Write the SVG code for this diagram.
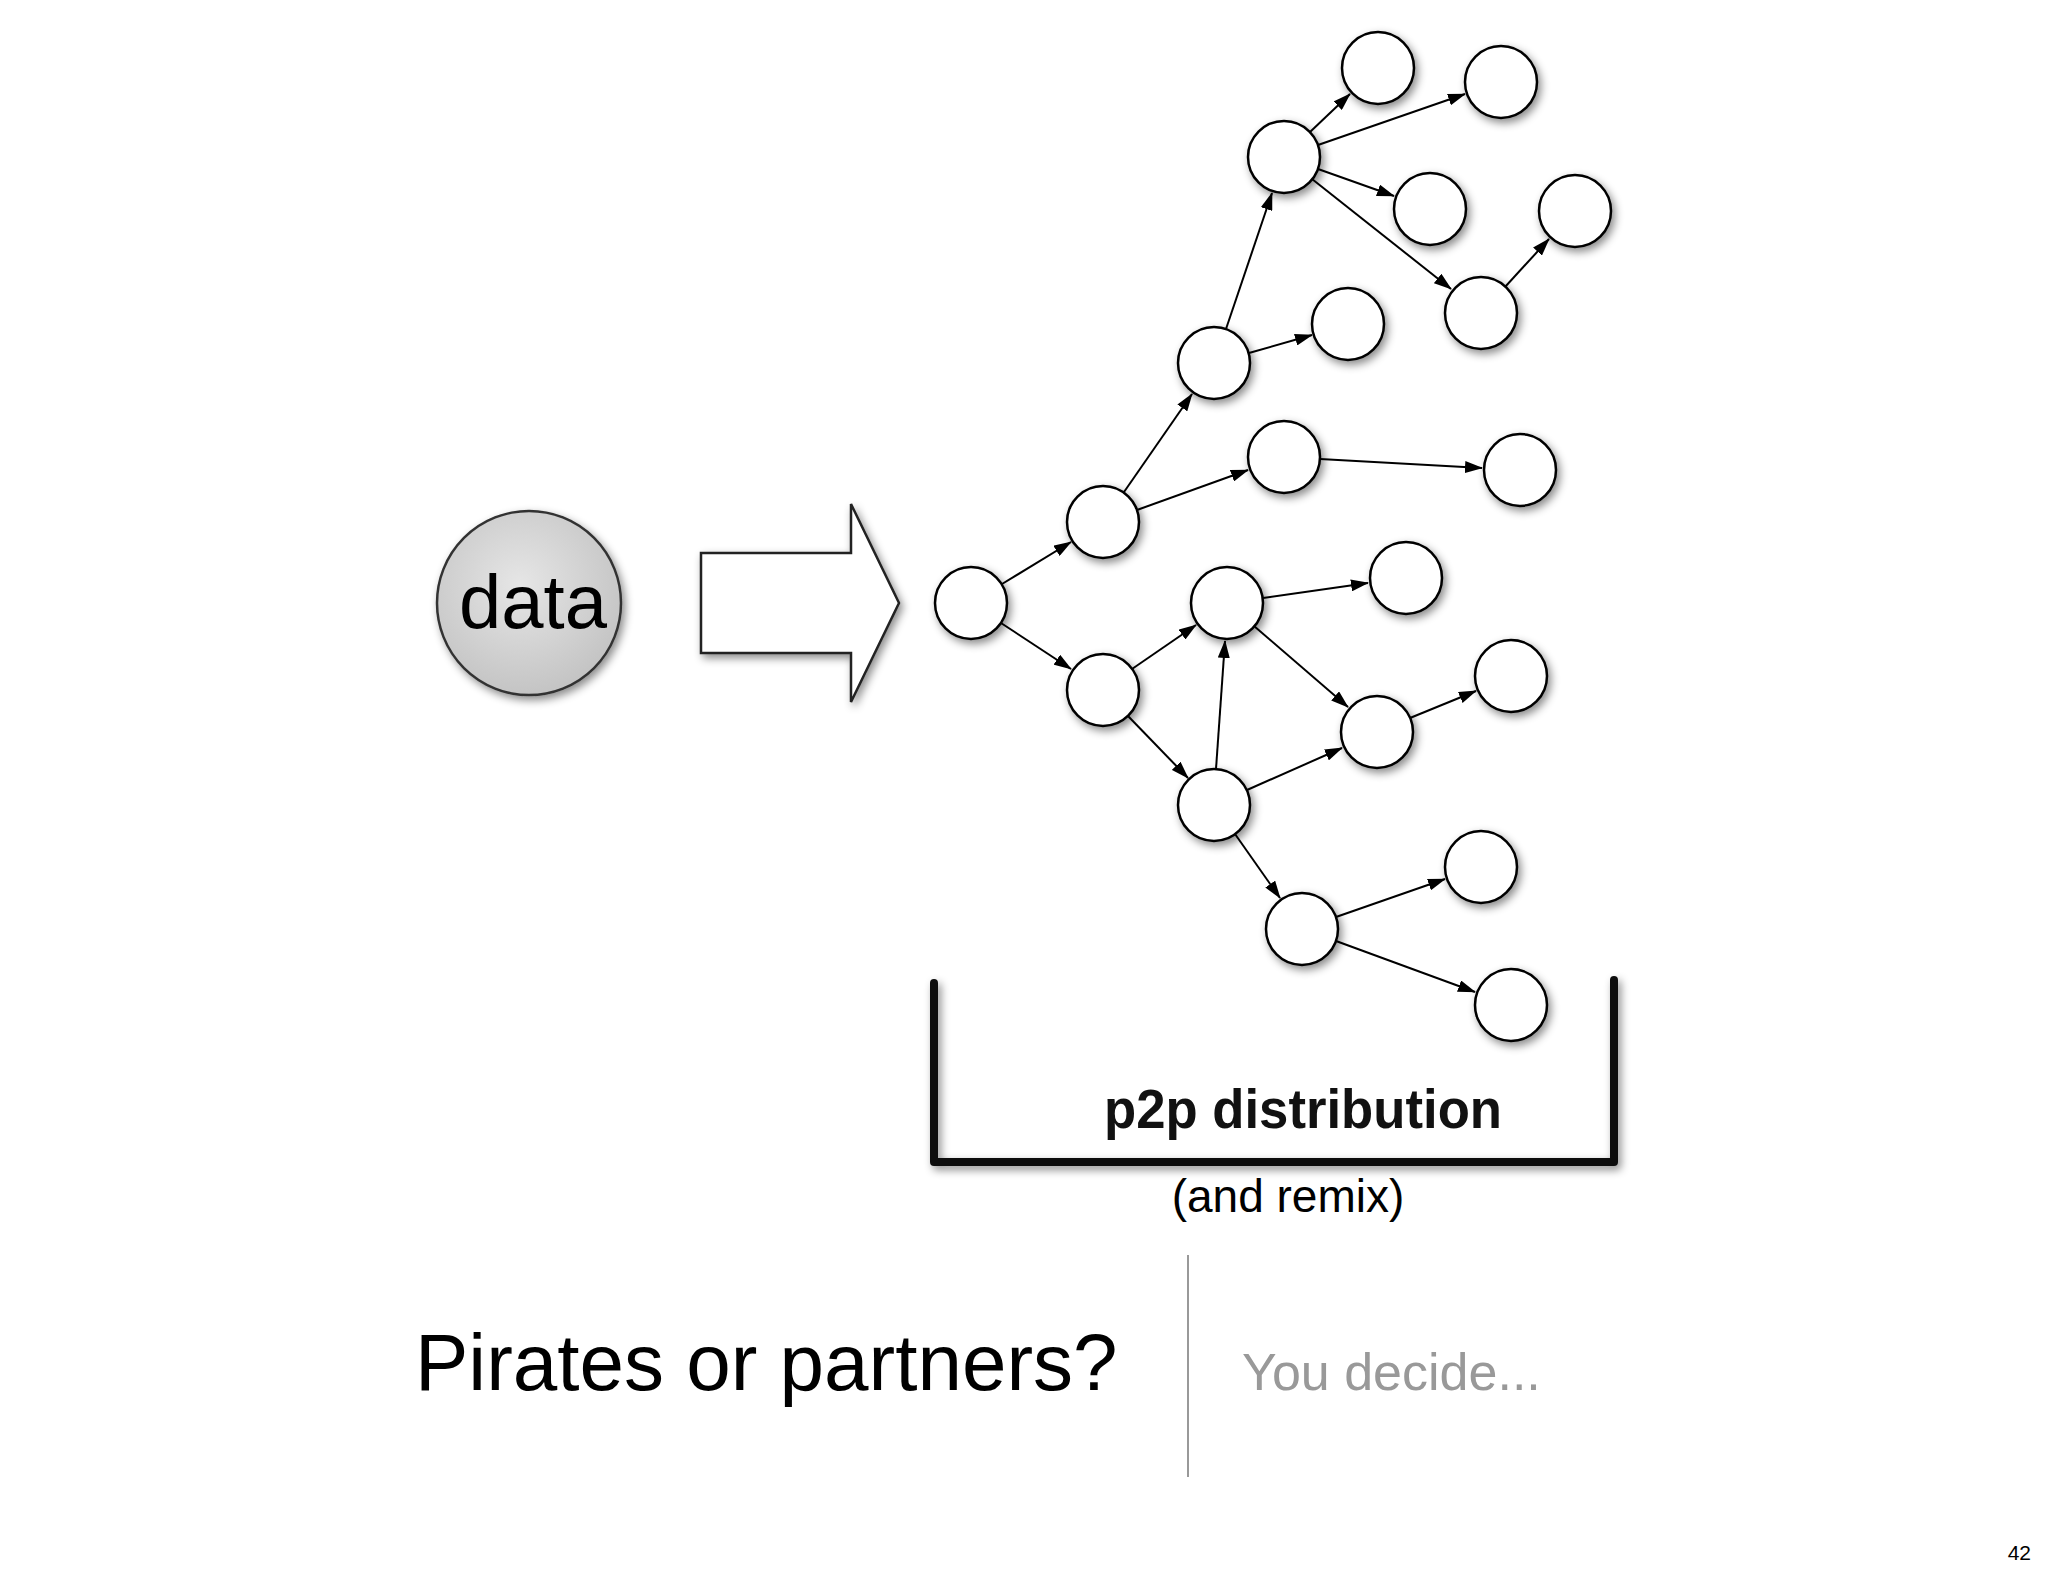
<svg xmlns="http://www.w3.org/2000/svg" width="2048" height="1576" viewBox="0 0 2048 1576">
<style>
.n{fill:#fff;stroke:#000;stroke-width:2.5;filter:url(#sh)}
.e{stroke:#000;stroke-width:2;fill:none;marker-end:url(#ah)}
text{font-family:"Helvetica","Liberation Sans",Arial,sans-serif}
</style>
<defs>
<filter id="sh" x="-30%" y="-30%" width="170%" height="170%"><feDropShadow dx="3" dy="4" stdDeviation="4" flood-color="#000" flood-opacity="0.45"/></filter>
<radialGradient id="dg" cx="45%" cy="40%" r="60%"><stop offset="0" stop-color="#e6e6e6"/><stop offset="1" stop-color="#c4c4c4"/></radialGradient>
<marker id="ah" markerWidth="18" markerHeight="12" refX="17" refY="6" orient="auto" markerUnits="userSpaceOnUse"><path d="M0,0 L18,6 L0,12 z" fill="#000"/></marker>
</defs>
<rect width="2048" height="1576" fill="#fff"/>
<g id="data"><circle cx="529" cy="603" r="92" fill="url(#dg)" stroke="#333" stroke-width="2.5" filter="url(#sh)"/><text x="533" y="628" font-size="76" text-anchor="middle">data</text></g>
<g id="bigarrow"><path d="M701,553 H851 V504 L899,603 L851,702 V653 H701 Z" fill="#fff" stroke="#222" stroke-width="2.5" filter="url(#sh)"/></g>
<g id="connectors">
<line class="e" x1="1002" y1="584" x2="1071" y2="542"/>
<line class="e" x1="1001" y1="623" x2="1071" y2="669"/>
<line class="e" x1="1124" y1="492" x2="1192" y2="394"/>
<line class="e" x1="1137" y1="510" x2="1248" y2="470"/>
<line class="e" x1="1226" y1="329" x2="1272" y2="193"/>
<line class="e" x1="1249" y1="353" x2="1312" y2="335"/>
<line class="e" x1="1310" y1="132" x2="1350" y2="94"/>
<line class="e" x1="1318" y1="145" x2="1465" y2="94"/>
<line class="e" x1="1318" y1="169" x2="1394" y2="196"/>
<line class="e" x1="1312" y1="179" x2="1451" y2="289"/>
<line class="e" x1="1505" y1="287" x2="1549" y2="239"/>
<line class="e" x1="1320" y1="459" x2="1482" y2="468"/>
<line class="e" x1="1132" y1="669" x2="1196" y2="625"/>
<line class="e" x1="1128" y1="716" x2="1188" y2="778"/>
<line class="e" x1="1216" y1="769" x2="1225" y2="641"/>
<line class="e" x1="1263" y1="598" x2="1368" y2="583"/>
<line class="e" x1="1254" y1="626" x2="1348" y2="707"/>
<line class="e" x1="1247" y1="790" x2="1342" y2="748"/>
<line class="e" x1="1410" y1="718" x2="1476" y2="691"/>
<line class="e" x1="1235" y1="834" x2="1280" y2="898"/>
<line class="e" x1="1336" y1="917" x2="1445" y2="879"/>
<line class="e" x1="1336" y1="941" x2="1475" y2="992"/>
</g>
<g id="n0"><circle class="n" cx="971" cy="603" r="36"/></g>
<g id="n1"><circle class="n" cx="1103" cy="522" r="36"/></g>
<g id="n2"><circle class="n" cx="1103" cy="690" r="36"/></g>
<g id="n3"><circle class="n" cx="1214" cy="363" r="36"/></g>
<g id="n4"><circle class="n" cx="1284" cy="457" r="36"/></g>
<g id="n5"><circle class="n" cx="1284" cy="157" r="36"/></g>
<g id="n6"><circle class="n" cx="1378" cy="68" r="36"/></g>
<g id="n7"><circle class="n" cx="1501" cy="82" r="36"/></g>
<g id="n8"><circle class="n" cx="1430" cy="209" r="36"/></g>
<g id="n9"><circle class="n" cx="1575" cy="211" r="36"/></g>
<g id="n10"><circle class="n" cx="1481" cy="313" r="36"/></g>
<g id="n11"><circle class="n" cx="1348" cy="324" r="36"/></g>
<g id="n12"><circle class="n" cx="1520" cy="470" r="36"/></g>
<g id="n13"><circle class="n" cx="1227" cy="603" r="36"/></g>
<g id="n14"><circle class="n" cx="1406" cy="578" r="36"/></g>
<g id="n15"><circle class="n" cx="1214" cy="805" r="36"/></g>
<g id="n16"><circle class="n" cx="1377" cy="732" r="36"/></g>
<g id="n17"><circle class="n" cx="1511" cy="676" r="36"/></g>
<g id="n18"><circle class="n" cx="1302" cy="929" r="36"/></g>
<g id="n19"><circle class="n" cx="1481" cy="867" r="36"/></g>
<g id="n20"><circle class="n" cx="1511" cy="1005" r="36"/></g>
<g id="bracket"><path d="M934,983 V1162 H1614 V980" fill="none" stroke="#111" stroke-width="8" stroke-linejoin="round" stroke-linecap="round" filter="url(#sh)"/>
<text x="1104" y="1128" font-size="56" font-weight="bold" textLength="398" lengthAdjust="spacingAndGlyphs" fill="#111">p2p distribution</text></g>
<text x="1288" y="1212" font-size="46" text-anchor="middle">(and remix)</text>
<text x="415" y="1390" font-size="80">Pirates or partners?</text>
<line x1="1188" y1="1255" x2="1188" y2="1477" stroke="#999" stroke-width="2"/>
<text x="1242" y="1390" font-size="52" fill="#999">You decide...</text>
<text x="2031" y="1560" font-size="21" text-anchor="end">42</text>
</svg>
